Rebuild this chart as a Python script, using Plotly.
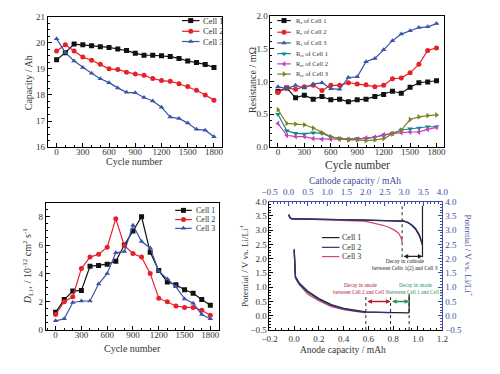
import plotly.graph_objects as go

SERIF = "Liberation Serif"
BLUE_AX = "#3b4fa0"
TXT = "#333333"

# ---------------- data ----------------
cycles = [0, 100, 200, 300, 400, 500, 600, 700, 800, 900, 1000, 1100, 1200, 1300, 1400, 1500, 1600, 1700, 1800]
cell_names = ["Cell 1", "Cell 2", "Cell 3"]

cap_cell1 = [19.35, 19.62, 19.95, 19.92, 19.88, 19.85, 19.82, 19.76, 19.70, 19.60, 19.52, 19.52, 19.50, 19.47, 19.40, 19.30, 19.24, 19.17, 19.05]
cap_cell2 = [19.68, 19.92, 19.68, 19.45, 19.33, 19.18, 19.00, 18.97, 18.87, 18.80, 18.75, 18.63, 18.55, 18.52, 18.43, 18.32, 18.18, 18.00, 17.80]
cap_cell3 = [20.15, 19.62, 19.30, 19.05, 18.83, 18.62, 18.47, 18.27, 18.10, 18.08, 17.90, 17.77, 17.53, 17.15, 17.10, 16.92, 16.68, 16.65, 16.40]

res_names = ["R<sub>s</sub> of Cell 1", "R<sub>s</sub> of Cell 2", "R<sub>s</sub> of Cell 3",
             "R<sub>ct</sub> of Cell 1", "R<sub>ct</sub> of Cell 2", "R<sub>ct</sub> of Cell 3"]
rs_cell1 = [0.85, 0.90, 0.75, 0.79, 0.73, 0.77, 0.72, 0.73, 0.69, 0.72, 0.73, 0.77, 0.80, 0.85, 0.82, 0.91, 0.98, 0.99, 1.01]
rs_cell2 = [0.83, 0.90, 0.88, 0.92, 0.94, 0.86, 0.94, 0.94, 0.98, 0.96, 0.95, 0.92, 0.94, 1.04, 1.05, 1.13, 1.26, 1.47, 1.51]
rs_cell3 = [0.92, 0.89, 0.94, 0.90, 0.96, 0.98, 0.89, 0.88, 1.06, 1.07, 1.30, 1.35, 1.48, 1.62, 1.72, 1.77, 1.82, 1.83, 1.88]
rct_cell1 = [0.50, 0.25, 0.21, 0.20, 0.22, 0.21, 0.15, 0.13, 0.12, 0.13, 0.13, 0.15, 0.18, 0.21, 0.26, 0.28, 0.29, 0.31, 0.31]
rct_cell2 = [0.36, 0.18, 0.16, 0.16, 0.13, 0.12, 0.12, 0.12, 0.12, 0.12, 0.14, 0.15, 0.19, 0.21, 0.22, 0.23, 0.23, 0.27, 0.30]
rct_cell3 = [0.57, 0.36, 0.35, 0.34, 0.29, 0.22, 0.16, 0.13, 0.11, 0.11, 0.10, 0.11, 0.13, 0.20, 0.26, 0.42, 0.46, 0.48, 0.49]

dli_cell1 = [1.25, 2.15, 2.75, 2.80, 4.50, 4.55, 4.65, 4.85, 6.00, 7.00, 8.00, 5.50, 4.20, 3.40, 3.20, 2.85, 2.60, 2.15, 1.75]
dli_cell2 = [1.10, 2.00, 2.35, 4.35, 5.15, 5.35, 5.85, 7.85, 5.95, 5.40, 5.15, 4.00, 2.25, 2.00, 1.70, 1.60, 1.60, 1.40, 1.05]
dli_cell3 = [0.65, 0.80, 1.95, 2.05, 2.05, 3.25, 4.00, 5.45, 5.55, 7.40, 6.25, 5.80, 4.15, 3.60, 3.05, 2.20, 1.90, 1.10, 0.80]

# cathode half-cell curves (top axis: cathode capacity / mAh)
cath_cap_cell1 = [0.0, 0.03, 0.08, 0.3, 0.8, 1.3, 1.8, 2.2, 2.6, 2.9, 3.0, 3.1, 3.2, 3.3, 3.4, 3.48]
cath_v_cell1 = [3.55, 3.45, 3.40, 3.39, 3.38, 3.37, 3.36, 3.35, 3.34, 3.33, 3.31, 3.26, 3.17, 3.03, 2.80, 2.48]
cath_cap_cell2 = [0.0, 0.03, 0.08, 0.3, 0.8, 1.3, 1.8, 2.2, 2.6, 2.9, 3.0, 3.1, 3.2, 3.3, 3.4, 3.48]
cath_v_cell2 = [3.52, 3.43, 3.39, 3.39, 3.38, 3.37, 3.36, 3.35, 3.345, 3.335, 3.315, 3.27, 3.19, 3.06, 2.84, 2.50]
cath_cap_cell3 = [0.0, 0.03, 0.08, 0.3, 0.8, 1.3, 1.7, 1.9, 2.1, 2.3, 2.45, 2.6, 2.75, 2.85, 2.92, 2.95]
cath_v_cell3 = [3.55, 3.45, 3.40, 3.39, 3.38, 3.37, 3.35, 3.32, 3.28, 3.22, 3.17, 3.10, 3.00, 2.90, 2.75, 2.58]

# anode half-cell curves (bottom axis: anode capacity / mAh)
an_cap_cell1 = [0.0, 0.005, 0.01, 0.04, 0.11, 0.2, 0.3, 0.4, 0.5, 0.58, 0.7, 0.8, 0.93]
an_v_cell1 = [2.32, 1.65, 1.38, 1.15, 0.86, 0.60, 0.39, 0.26, 0.18, 0.14, 0.12, 0.11, 0.10]
an_cap_cell2 = [0.0, 0.005, 0.01, 0.04, 0.11, 0.2, 0.3, 0.4, 0.5, 0.58, 0.68, 0.78]
an_v_cell2 = [2.30, 1.62, 1.35, 1.12, 0.82, 0.57, 0.36, 0.24, 0.16, 0.13, 0.12, 0.11]
an_cap_cell3 = [0.0, 0.005, 0.01, 0.04, 0.11, 0.2, 0.3, 0.41, 0.51, 0.58]
an_v_cell3 = [2.35, 1.60, 1.32, 1.10, 0.75, 0.53, 0.32, 0.21, 0.13, 0.10]

# ---------------- styling ----------------
c_black, c_red, c_blue = "#111111", "#e8202a", "#3a55a8"
c_teal, c_mag, c_olive = "#0f8a8a", "#c040c0", "#808020"
c4_black, c4_blue, c4_red = "#222222", "#2a3580", "#d8486a"

fig = go.Figure()


def series(x, y, color, symbol, xa, ya, size=5.5, name=None):
    fig.add_trace(go.Scatter(x=x, y=y, mode="lines+markers", name=name,
                             line=dict(color=color, width=1.2),
                             marker=dict(symbol=symbol, size=size, color=color),
                             xaxis=xa, yaxis=ya, showlegend=False))


# panel 1
for y, c, s, n in zip([cap_cell1, cap_cell2, cap_cell3], [c_black, c_red, c_blue],
                      ["square", "circle", "triangle-up"], cell_names):
    series(cycles, y, c, s, "x", "y", size=5, name=n)

# panel 2
res_series = [rs_cell1, rs_cell2, rs_cell3, rct_cell1, rct_cell2, rct_cell3]
res_colors = [c_black, c_red, c_blue, c_teal, c_mag, c_olive]
res_symbols = ["square", "circle", "triangle-up", "triangle-down", "triangle-left", "triangle-right"]
for y, c, s, n in zip(res_series, res_colors, res_symbols, res_names):
    series(cycles, y, c, s, "x2", "y2", size=5, name=n)

# panel 3
for y, c, s, n in zip([dli_cell1, dli_cell2, dli_cell3], [c_black, c_red, c_blue],
                      ["square", "circle", "triangle-up"], cell_names):
    series(cycles, y, c, s, "x3", "y3", size=5, name=n)

# panel 4 curves
an_caps = [an_cap_cell1, an_cap_cell2, an_cap_cell3]
an_vs = [an_v_cell1, an_v_cell2, an_v_cell3]
cath_caps = [cath_cap_cell1, cath_cap_cell2, cath_cap_cell3]
cath_vs = [cath_v_cell1, cath_v_cell2, cath_v_cell3]
cols4 = [c4_black, c4_blue, c4_red]
for i in [2, 0, 1]:
    fig.add_trace(go.Scatter(x=an_caps[i], y=an_vs[i], mode="lines", line=dict(color=cols4[i], width=1.3),
                             xaxis="x4", yaxis="y4", showlegend=False, name=cell_names[i]))
for i in [2, 0, 1]:
    fig.add_trace(go.Scatter(x=cath_caps[i], y=cath_vs[i], mode="lines", line=dict(color=cols4[i], width=1.3),
                             xaxis="x5", yaxis="y4", showlegend=False, name=cell_names[i]))
# dummy for right axis
fig.add_trace(go.Scatter(x=[None], y=[None], xaxis="x4", yaxis="y5", showlegend=False))

# decay markers (derived from curve end points)
an_end = [c[-1] for c in an_caps]        # cell1, cell2, cell3
cath_end = [c[-1] for c in cath_caps]
shapes = []
for xe in an_end:
    shapes.append(dict(type="line", xref="x4", yref="y4", x0=xe, x1=xe, y0=-0.5, y1=0.7,
                       line=dict(color="#222", width=1, dash="dot")))
shapes.append(dict(type="line", xref="x4", yref="y4", x0=an_end[0], x1=an_end[0], y0=0.1, y1=0.75,
                   line=dict(color="#222", width=1.2)))
shapes.append(dict(type="line", xref="x5", yref="y4", x0=cath_end[2], x1=cath_end[2], y0=2.05, y1=3.85,
                   line=dict(color="#222", width=1, dash="dot")))
shapes.append(dict(type="line", xref="x5", yref="y4", x0=cath_end[0], x1=cath_end[0], y0=2.05, y1=3.85,
                   line=dict(color="#222", width=1.2)))

annotations = []


def arrow(x0, x1, y, xref, color):
    annotations.append(dict(x=x1, y=y, ax=x0, ay=y, xref=xref, yref="y4", axref=xref, ayref="y4",
                            showarrow=True, arrowhead=2, arrowside="end+start", arrowsize=0.7,
                            arrowwidth=1.3, arrowcolor=color, text=""))


arrow(cath_end[2], cath_end[0], 2.08, "x5", "#222")
arrow(an_end[2], an_end[1], 0.5, "x4", "#b02030")
arrow(an_end[1], an_end[0], 0.5, "x4", "#2a9050")

annotations.append(dict(x=0.9, y=1.77, xref="x4", yref="y4", showarrow=False,
                        text="Decay in cathode<br>between Cells 1(2) and Cell 3",
                        font=dict(family=SERIF, size=5.5, color="#222")))
annotations.append(dict(x=0.54, y=0.96, xref="x4", yref="y4", showarrow=False,
                        text="Decay in anode<br>between Cell 2 and Cell 3",
                        font=dict(family=SERIF, size=5.3, color="#b02030")))
annotations.append(dict(x=0.98, y=0.96, xref="x4", yref="y4", showarrow=False,
                        text="Decay in anode<br>between Cell 1 and Cell 2",
                        font=dict(family=SERIF, size=5.3, color="#2a9050")))

# ---------------- manual legends (pixel overlay axis) ----------------


def legend(entries, x0, x1, xt, ys, fsize, msize=5.5):
    for (label, color, symbol), yy in zip(entries, ys):
        fig.add_trace(go.Scatter(x=[x0, x1], y=[yy, yy], mode="lines", line=dict(color=color, width=1.2),
                                 xaxis="x6", yaxis="y6", showlegend=False, hoverinfo="skip"))
        if symbol:
            fig.add_trace(go.Scatter(x=[(x0 + x1) / 2], y=[yy], mode="markers",
                                     marker=dict(symbol=symbol, size=msize, color=color),
                                     xaxis="x6", yaxis="y6", showlegend=False, hoverinfo="skip"))
        annotations.append(dict(x=xt, y=yy, xref="x6", yref="y6", xanchor="left", yanchor="middle",
                                showarrow=False, text=label, font=dict(family=SERIF, size=fsize, color=TXT)))


legend(list(zip(cell_names, [c_black, c_red, c_blue], ["square", "circle", "triangle-up"])),
       179, 197, 199, [16, 27, 37.5], 8.5, 5)
legend(list(zip(res_names, res_colors, res_symbols)), 277, 291, 294, [16, 28, 39, 50, 60.5, 71], 6.5, 5)
legend(list(zip(cell_names, [c_black, c_red, c_blue], ["square", "circle", "triangle-up"])),
       172, 189, 191, [211, 220.5, 229.5], 8, 5)
legend(list(zip(cell_names, cols4, [None, None, None])), 323, 341, 342, [239, 249, 258.5], 8)

# ---------------- axis titles ----------------


def title(text, x, y, angle=0, size=10, color=TXT):
    annotations.append(dict(x=x / 500, y=1 - y / 374, xref="paper", yref="paper", showarrow=False,
                            text=text, textangle=angle, xanchor="center", yanchor="middle",
                            font=dict(family=SERIF, size=size, color=color)))


title("Capacity / Ah", 21, 80, -90)
title("Cycle number", 130, 161)
title("Resistance / m\u03a9", 252, 77, -90)
title("Cycle number", 360, 165, 0, 11.5)
title("<i>D</i><sub>Li+</sub> / 10<sup>-12</sup> cm<sup>2</sup> s<sup>-1</sup>", 20, 268, -90)
title("Cycle number", 128, 353)
title("Cathode capacity / mAh", 357, 181, 0, 9.5, BLUE_AX)
title("Anode capacity / mAh", 345, 354, 0, 9.5)
title("Potential / V vs. Li/Li<sup>+</sup>", 243, 268, -90, 9)
title("Potential / V vs. Li/Li<sup>+</sup>", 474, 257, 90, 9, BLUE_AX)

# ---------------- axes ----------------


def axis(domain, anchor, rng, dtick, minor, fmt=None, color="black", mirror=True, tick0=0, tcolor=TXT, **kw):
    d = dict(range=rng, dtick=dtick, tick0=tick0, ticks="inside", ticklen=4, tickwidth=1, tickcolor=color,
             showline=True, linecolor=color, linewidth=1, mirror=mirror, showgrid=False, zeroline=False,
             tickfont=dict(family=SERIF, size=9, color=tcolor), anchor=anchor,
             minor=dict(ticks="inside", ticklen=2, dtick=minor, tickcolor=color, showgrid=False))
    if domain is not None:
        d["domain"] = domain
    if fmt:
        d["tickformat"] = fmt
    d.update(kw)
    return d


SO = -4
layout = dict(
    width=500, height=374, margin=dict(l=0, r=0, t=0, b=0),
    paper_bgcolor="white", plot_bgcolor="rgba(0,0,0,0)", showlegend=False,
    xaxis=axis([0.082, 0.44], "y", [-100, 1890], 300, 100, ticklabelstandoff=SO),
    yaxis=axis([0.6096, 0.968], "x", [16, 21], 1, 0.25),
    xaxis2=axis([0.54, 0.898], "y2", [-85, 1890], 300, 100, ticklabelstandoff=SO),
    yaxis2=axis([0.6096, 0.9706], "x2", [0, 2.0], 0.5, 0.1, ".1f"),
    xaxis3=axis([0.078, 0.434], "y3", [-113, 1900], 300, 100, ticklabelstandoff=SO),
    yaxis3=axis([0.107, 0.4572], "x3", [0, 9], 2, 0.5),
    xaxis4=axis([0.538, 0.894], "y4", [-0.2, 1.2], 0.2, 0.05, ".1f", mirror=False, tick0=-0.2,
                ticklabelstandoff=0),
    yaxis4=axis([0.107, 0.46], "x4", [-0.5, 4.0], 0.5, 0.1, ".1f", mirror=False, tick0=-0.5),
    xaxis5=axis(None, "y4", [-0.5, 4.0], 0.5, 0.1, ".1f", color=BLUE_AX, mirror=False, tick0=-0.5,
                tcolor=BLUE_AX, overlaying="x4", side="top", ticklabelstandoff=2),
    yaxis5=axis(None, "x4", [-0.5, 4.0], 0.5, 0.1, ".1f", color=BLUE_AX, mirror=False, tick0=-0.5,
                tcolor=BLUE_AX, overlaying="y4", side="right"),
    xaxis6=dict(domain=[0, 1], range=[0, 500], visible=False, anchor="y6", fixedrange=True),
    yaxis6=dict(domain=[0, 1], range=[374, 0], visible=False, anchor="x6", fixedrange=True),
    shapes=shapes, annotations=annotations,
)
fig.update_layout(**layout)
fig.write_html("out.html", config={"displayModeBar": False},
               post_script="document.body.style.margin='0';")
